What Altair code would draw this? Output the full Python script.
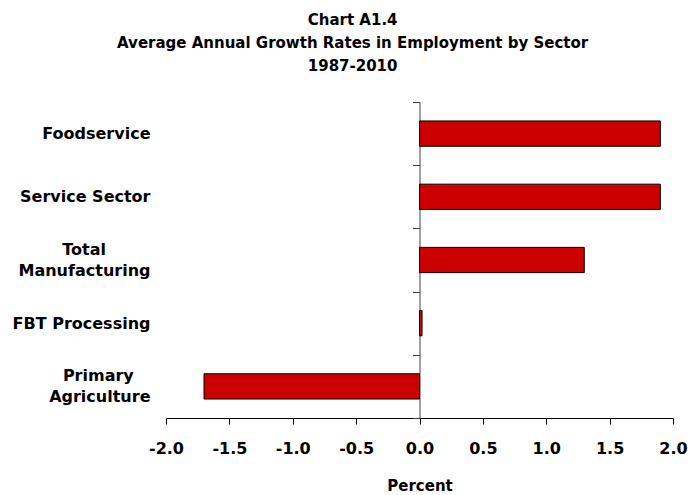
import altair as alt
import pandas as pd

categories = ["Foodservice", "Service Sector", "Total Manufacturing", "FBT Processing", "Primary Agriculture"]
growth = [1.9, 1.9, 1.3, 0.02, -1.7]
x_ticks = [-2.0, -1.5, -1.0, -0.5, 0.0, 0.5, 1.0, 1.5, 2.0]

df = pd.DataFrame({"sector": categories, "growth": growth})

W, H = 507, 316
FONT = "DejaVu Sans"
NB = "\u00a0"
ZW = "\u200b"

label_expr = (
    "datum.label == 'Total Manufacturing' ? ['Total" + NB * 8 + ZW + "', 'Manufacturing'] : "
    "datum.label == 'Primary Agriculture' ? ['Primary" + NB * 3 + ZW + "', 'Agriculture'] : datum.label"
)
offset_expr = "(datum.value == 'Total Manufacturing' || datum.value == 'Primary Agriculture') ? -10.5 : 0"

chart = (
    alt.Chart(df)
    .mark_bar(color="#CC0000", stroke="black", strokeWidth=1,
              height=alt.RelativeBandSize(band=0.4))
    .encode(
        x=alt.X(
            "growth:Q",
            scale=alt.Scale(domain=[-2, 2], nice=False, zero=False),
            axis=alt.Axis(
                title="Percent",
                values=x_ticks,
                labelExpr="replace(format(datum.value, '.1f'), '\u2212', '-')",
                labelFlush=False,
                grid=False,
                domainColor="black",
                tickColor="black",
                tickSize=6,
                labelPadding=16,
                titlePadding=22,
            ),
        ),
        y=alt.Y(
            "sector:N",
            sort=categories,
            scale=alt.Scale(paddingInner=0, paddingOuter=0),
            axis=alt.Axis(
                title=None,
                offset=-W / 2,
                tickBand="extent",
                tickSize=7,
                labelPadding=W / 2 - 7 + 16,
                labelAlign="right",
                labelBaseline="middle",
                labelLineHeight=21,
                labelOffset=alt.ExprRef(offset_expr),
                labelExpr=label_expr,
                domainColor="#404040",
                tickColor="#404040",
                grid=False,
            ),
        ),
    )
    .properties(
        width=W,
        height=H,
        autosize=alt.AutoSizeParams(type="none"),
        padding={"left": 166, "top": 102, "right": 22, "bottom": 77},
        title=alt.TitleParams(
            text=["Chart A1.4", "Average Annual Growth Rates in Employment by Sector", "1987-2010"],
            anchor="middle",
            frame="bounds",
            fontSize=15,
            font=FONT,
            fontWeight="bold",
            lineHeight=23,
            offset=20,
            dx=3,
            color="black",
        ),
    )
    .configure_view(stroke=None)
    .configure_axis(
        labelFont=FONT,
        labelFontSize=16,
        labelFontWeight="bold",
        labelColor="black",
        titleFont=FONT,
        titleFontSize=15,
        titleFontWeight="bold",
        titleColor="black",
        labelOverlap=False,
    )
)

chart.save("out.html", embed_options={"renderer": "svg", "actions": False})
